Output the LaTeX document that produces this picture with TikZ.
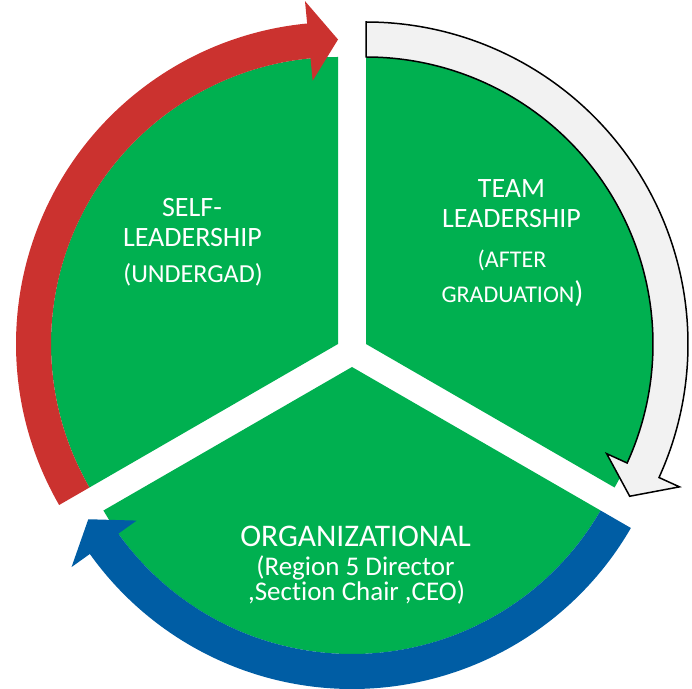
\documentclass[tikz,border=0pt]{standalone}
\usepackage{fontspec}
\setmainfont[Ligatures=NoCommon]{Carlito}
\definecolor{segGreen}{RGB}{0,176,80}
\definecolor{arrRed}{RGB}{203,50,47}
\definecolor{arrBlue}{RGB}{0,93,164}
\definecolor{arrGray}{RGB}{242,242,242}
\tikzset{
  seg/.style={fill=segGreen, draw=none},
  lbl/.style={text=white, inner sep=0pt, anchor=base, align=center},
}
% circular arrow: #1 start angle, #2 tip angle (clockwise)
\newcommand{\cwarrow}[3]{%
  \path[#3] (#1:322pt) arc[start angle=#1, end angle=#2+5.5, radius=322pt]
    -- (#2+5.5:344.5pt) -- (#2:304.5pt) -- (#2+5.5:264.5pt) -- (#2+5.5:287pt)
    arc[start angle=#2+5.5, end angle=#1, radius=287pt] -- cycle;}
\begin{document}
\begin{tikzpicture}[x=1pt,y=1pt]
\useasboundingbox (0,0) rectangle (692,688);
% segments
\coordinate (cL) at (338,344);
\coordinate (cR) at (366,344);
\coordinate (cB) at (352,321);
\fill[seg] (cL) -- ++(90:287) arc[start angle=90, end angle=210, radius=287] -- cycle;
\fill[seg] (cR) -- ++(-30:287) arc[start angle=-30, end angle=90, radius=287] -- cycle;
\fill[seg] (cB) -- ++(210:287) arc[start angle=210, end angle=330, radius=287] -- cycle;
% arrows
\begin{scope}[shift={(cL)}]
  \cwarrow{210}{90}{fill=arrRed}
\end{scope}
\begin{scope}[shift={(cR)}]
  \cwarrow{90}{-30}{fill=arrGray, draw=black, line width=1.5pt, line join=miter}
\end{scope}
\begin{scope}[shift={(cB)}]
  \cwarrow{330}{210}{fill=arrBlue}
\end{scope}
% labels
\node[lbl, font=\fontsize{28}{28}\selectfont] (s1) at (192,471) {SELF-};
\node[lbl, font=\fontsize{28}{28}\selectfont] (s2) at (192.5,441) {LEADERSHIP};
\node[lbl, font=\fontsize{26}{26}\selectfont] (s3) at (193,405) {(UNDERGAD)};
\node[lbl, font=\fontsize{28}{28}\selectfont] (t1) at (511.5,490) {TEAM};
\node[lbl, font=\fontsize{28}{28}\selectfont] (t2) at (511.5,460) {LEADERSHIP};
\node[lbl, font=\fontsize{24}{24}\selectfont] (t3) at (512,420) {(AFTER};
\node[lbl, font=\fontsize{24}{24}\selectfont] (t4) at (512.5,385) {GRADUATION{\fontsize{30}{30}\selectfont)}};
\node[lbl, font=\fontsize{31.5}{31.5}\selectfont] (o1) at (355.5,142) {ORGANIZATIONAL};
\node[lbl, font=\fontsize{27}{27}\selectfont] (o2) at (355.5,113) {(Region 5 Director};
\node[lbl, font=\fontsize{27}{27}\selectfont] (o3) at (356.5,88) {,Section Chair ,CEO)};
\end{tikzpicture}
\end{document}
